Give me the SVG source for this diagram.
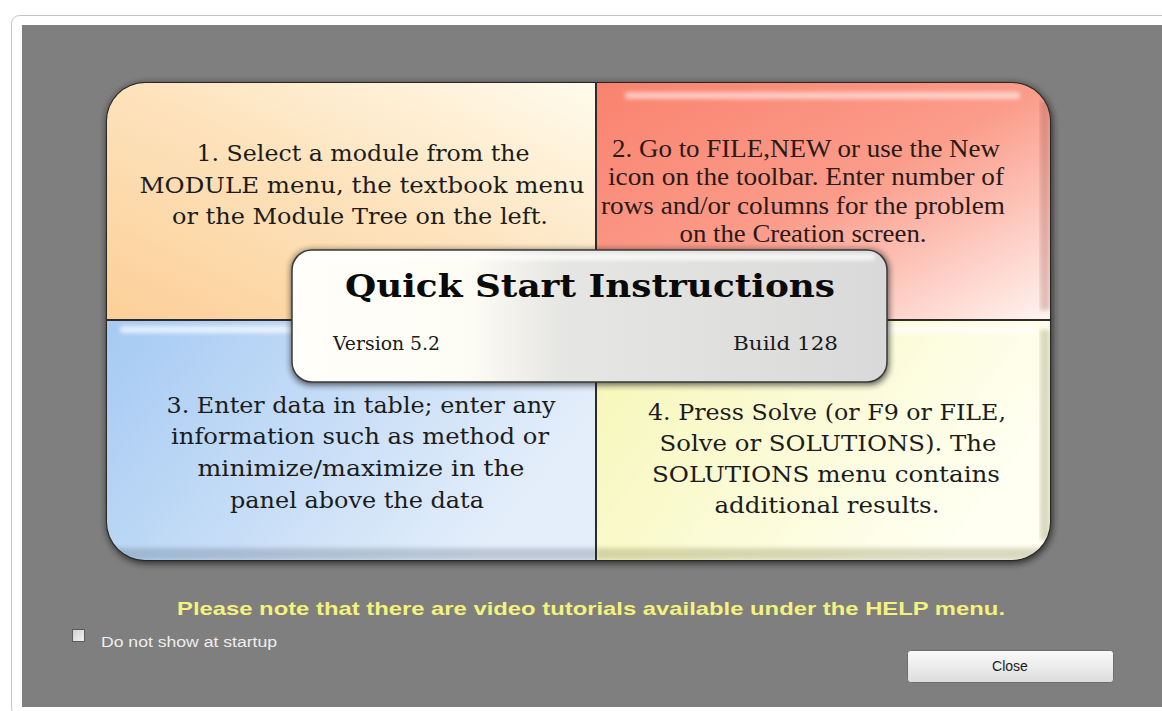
<svg xmlns="http://www.w3.org/2000/svg" width="1162" height="711" viewBox="0 0 1162 711">
<defs>
<style>
.s1{font-family:"DejaVu Serif","Liberation Serif",serif;font-size:23px;fill:#1c1c1c;text-anchor:middle}
.s2{font-family:"Liberation Serif",serif;font-size:25px;fill:#2a1a18;text-anchor:middle}
.ttl{font-family:"DejaVu Serif","Liberation Serif",serif;font-size:31px;font-weight:bold;fill:#0a0a0a;text-anchor:middle}
.ver{font-family:"DejaVu Serif","Liberation Serif",serif;font-size:19px;fill:#1a1a1a}
.note{font-family:"Liberation Sans",Arial,sans-serif;font-size:19px;font-weight:bold;fill:#f2f27c;text-anchor:middle}
.ui{font-family:"Liberation Sans",Arial,sans-serif;font-size:14px}
</style>
<clipPath id="pc"><rect x="107" y="83" width="943" height="477" rx="38"/></clipPath>
<filter id="blur3" x="-10%" y="-10%" width="120%" height="120%"><feGaussianBlur stdDeviation="3"/></filter>
<filter id="blur2" x="-10%" y="-50%" width="120%" height="200%"><feGaussianBlur stdDeviation="2"/></filter>
<linearGradient id="gTL" x1="0" y1="1" x2="1" y2="0"><stop offset="0" stop-color="#fccf98"/><stop offset="0.5" stop-color="#fde2bb"/><stop offset="1" stop-color="#fffbec"/></linearGradient>
<linearGradient id="gTR" x1="0" y1="0" x2="1" y2="1"><stop offset="0" stop-color="#f9826e"/><stop offset="0.5" stop-color="#fb9c8a"/><stop offset="1" stop-color="#fff4f1"/></linearGradient>
<linearGradient id="gBL" x1="0" y1="0" x2="1" y2="0.4"><stop offset="0" stop-color="#a5caf3"/><stop offset="1" stop-color="#e4eefa"/></linearGradient>
<linearGradient id="gBR" x1="0" y1="0" x2="1" y2="0.4"><stop offset="0" stop-color="#f6f6b6"/><stop offset="1" stop-color="#fffff2"/></linearGradient>
<linearGradient id="gC" x1="0" y1="0" x2="1" y2="0"><stop offset="0" stop-color="#fffefa"/><stop offset="0.3" stop-color="#fdfcf4"/><stop offset="0.45" stop-color="#e6e6e4"/><stop offset="1" stop-color="#d9d9d9"/></linearGradient>
<linearGradient id="gBtn" x1="0" y1="0" x2="0" y2="1"><stop offset="0" stop-color="#fafafa"/><stop offset="0.5" stop-color="#ececec"/><stop offset="1" stop-color="#dcdcdc"/></linearGradient>
<linearGradient id="gChk" x1="0" y1="0" x2="1" y2="1"><stop offset="0" stop-color="#cfcfcf"/><stop offset="1" stop-color="#f2f2f2"/></linearGradient>
</defs>
<rect width="1162" height="711" fill="#ffffff"/>
<g id="window">
<rect x="11.5" y="15.5" width="1170" height="700" rx="8" fill="#ffffff" stroke="#c4c4c4"/>
<rect x="22" y="25" width="1140" height="682" fill="#7f7f7f"/>
</g>
<g id="panel">
<rect x="106" y="83" width="947" height="481" rx="40" fill="#1e1e1e" opacity="0.75" filter="url(#blur3)"/>
<rect x="106" y="82" width="945" height="479" rx="39" fill="#2a2622"/>
<g clip-path="url(#pc)">
<g id="q1"><rect x="107" y="83" width="489" height="237" fill="url(#gTL)"/></g>
<g id="q2"><rect x="596" y="83" width="454" height="237" fill="url(#gTR)"/>
<rect x="625" y="92" width="395" height="7" rx="3" fill="#ffffff" opacity="0.55" filter="url(#blur2)"/>
<rect x="1040" y="100" width="10" height="210" fill="#8a3a30" opacity="0.25" filter="url(#blur2)"/></g>
<g id="q3"><rect x="107" y="320" width="489" height="240" fill="url(#gBL)"/>
<rect x="120" y="326" width="465" height="7" rx="3" fill="#ffffff" opacity="0.7" filter="url(#blur2)"/>
<rect x="107" y="548" width="489" height="12" fill="#4a5a6a" opacity="0.25" filter="url(#blur2)"/></g>
<g id="q4"><rect x="596" y="320" width="454" height="240" fill="url(#gBR)"/>
<rect x="605" y="326" width="430" height="7" rx="3" fill="#ffffff" opacity="0.8" filter="url(#blur2)"/>
<rect x="1040" y="330" width="10" height="210" fill="#6a6a30" opacity="0.25" filter="url(#blur2)"/>
<rect x="596" y="548" width="454" height="12" fill="#6a6a30" opacity="0.25" filter="url(#blur2)"/></g>
</g>
<line x1="596" y1="83" x2="596" y2="560" stroke="#2c2c2c" stroke-width="2"/>
<line x1="107" y1="320" x2="1050" y2="320" stroke="#2c2c2c" stroke-width="2"/>
</g>
<g id="t1">
<text class="s1" x="363" y="161" textLength="333" lengthAdjust="spacingAndGlyphs">1. Select a module from the</text>
<text class="s1" x="362" y="193" textLength="445" lengthAdjust="spacingAndGlyphs">MODULE menu, the textbook menu</text>
<text class="s1" x="360" y="224" textLength="376" lengthAdjust="spacingAndGlyphs">or the Module Tree on the left.</text>
</g>
<g id="t2">
<text class="s2" x="806" y="157" textLength="388" lengthAdjust="spacingAndGlyphs">2. Go to FILE,NEW or use the New</text>
<text class="s2" x="806" y="185" textLength="396" lengthAdjust="spacingAndGlyphs">icon on the toolbar. Enter number of</text>
<text class="s2" x="803" y="214" textLength="404" lengthAdjust="spacingAndGlyphs">rows and/or columns for the problem</text>
<text class="s2" x="803" y="242" textLength="247" lengthAdjust="spacingAndGlyphs">on the Creation screen.</text>
</g>
<g id="t3">
<text class="s1" x="361" y="413" textLength="389" lengthAdjust="spacingAndGlyphs">3. Enter data in table; enter any</text>
<text class="s1" x="360" y="444" textLength="378" lengthAdjust="spacingAndGlyphs">information such as method or</text>
<text class="s1" x="361" y="476" textLength="327" lengthAdjust="spacingAndGlyphs">minimize/maximize in the</text>
<text class="s1" x="357" y="508" textLength="254" lengthAdjust="spacingAndGlyphs">panel above the data</text>
</g>
<g id="t4">
<text class="s1" x="827" y="420" textLength="358" lengthAdjust="spacingAndGlyphs">4. Press Solve (or F9 or FILE,</text>
<text class="s1" x="828" y="451" textLength="337" lengthAdjust="spacingAndGlyphs">Solve or SOLUTIONS). The</text>
<text class="s1" x="826" y="482" textLength="348" lengthAdjust="spacingAndGlyphs">SOLUTIONS menu contains</text>
<text class="s1" x="827" y="513" textLength="225" lengthAdjust="spacingAndGlyphs">additional results.</text>
</g>
<g id="titlebox">
<rect x="291" y="250" width="598" height="135" rx="20" fill="#1a1a1a" opacity="0.7" filter="url(#blur3)"/>
<rect x="292" y="250" width="595" height="132" rx="20" fill="url(#gC)" stroke="#3a3a3a" stroke-width="1.5"/>
<rect x="305" y="254" width="570" height="6" rx="3" fill="#ffffff" opacity="0.8" filter="url(#blur2)"/>
<text class="ttl" x="590" y="297" textLength="490" lengthAdjust="spacingAndGlyphs">Quick Start Instructions</text>
<text class="ver" x="333" y="350" textLength="107" lengthAdjust="spacingAndGlyphs">Version 5.2</text>
<text class="ver" x="838" y="350" text-anchor="end" textLength="105" lengthAdjust="spacingAndGlyphs">Build 128</text>
</g>
<g id="note">
<text class="note" x="591" y="615" textLength="828" lengthAdjust="spacingAndGlyphs">Please note that there are video tutorials available under the HELP menu.</text>
</g>
<g id="checkbox">
<rect x="72.5" y="629.5" width="12" height="12" fill="url(#gChk)" stroke="#5a5a5a"/>
<text class="ui" x="101" y="647" fill="#eeeeee" font-size="15" textLength="176" lengthAdjust="spacingAndGlyphs">Do not show at startup</text>
</g>
<g id="close">
<rect x="907.5" y="650.5" width="206" height="32" rx="3" fill="url(#gBtn)" stroke="#6e6e6e"/>
<text class="ui" x="1010" y="671" fill="#1a1a1a" text-anchor="middle">Close</text>
</g>
</svg>
